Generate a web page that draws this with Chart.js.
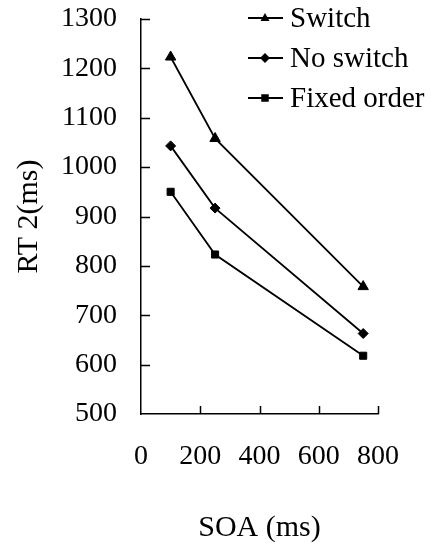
<!DOCTYPE html>
<html>
<head>
<meta charset="utf-8">
<script src="https://cdn.jsdelivr.net/npm/chart.js@4/dist/chart.umd.min.js"></script>
<style>
  html, body { margin: 0; padding: 0; background: #fff; }
  #wrap { width: 431px; height: 546px; }
</style>
</head>
<body>
<div id="wrap"><canvas id="chart" width="431" height="546"></canvas></div>
<script>
// SOA values (ms) and RT2 per condition
const soa = [100, 250, 750];
const switchRT = [1223, 1058, 758];
const noSwitchRT = [1043, 917, 663];
const fixedOrderRT = [950, 823, 618];

const seriesLabels = ['Switch', 'No switch', 'Fixed order'];
const markers = ['triangle', 'rectRot', 'rect'];

const xTicks = [0, 200, 400, 600, 800];
const yTicks = [500, 600, 700, 800, 900, 1000, 1100, 1200, 1300];

const FONT = "'Liberation Serif', 'Times New Roman', serif";

const toPoints = (vals) => vals.map((v, i) => ({ x: soa[i], y: v }));

// small tick marks pointing into the plot, like the original figure
const inwardTicks = {
  id: 'inwardTicks',
  afterDatasetsDraw(chart) {
    const { ctx, scales: { x, y } } = chart;
    ctx.save();
    ctx.strokeStyle = '#000';
    ctx.lineWidth = 1.5;
    ctx.beginPath();
    y.ticks.forEach(t => {
      if (t.value === y.min) return;
      const py = Math.round(y.getPixelForValue(t.value)) + 0.5;
      ctx.moveTo(x.left, py);
      ctx.lineTo(x.left + 9, py);
    });
    x.ticks.forEach(t => {
      if (t.value === x.min) return;
      const px = Math.round(x.getPixelForValue(t.value)) + 0.5;
      ctx.moveTo(px, y.bottom);
      ctx.lineTo(px, y.bottom - 8);
    });
    ctx.stroke();
    ctx.restore();
  }
};

function drawMarker(ctx, style, cx, cy, r) {
  ctx.beginPath();
  if (style === 'triangle') {
    ctx.moveTo(cx, cy - r);
    ctx.lineTo(cx + r * 0.9, cy + r * 0.6);
    ctx.lineTo(cx - r * 0.9, cy + r * 0.6);
  } else if (style === 'rectRot') {
    ctx.moveTo(cx, cy - r);
    ctx.lineTo(cx + r, cy);
    ctx.lineTo(cx, cy + r);
    ctx.lineTo(cx - r, cy);
  } else {
    ctx.rect(cx - r * 0.75, cy - r * 0.75, r * 1.5, r * 1.5);
  }
  ctx.closePath();
  ctx.fill();
}

// legend drawn in the upper right, line with marker in the middle
const lineLegend = {
  id: 'lineLegend',
  afterDraw(chart) {
    const ctx = chart.ctx;
    ctx.save();
    ctx.fillStyle = '#000';
    ctx.strokeStyle = '#000';
    ctx.lineWidth = 1.8;
    ctx.font = '29px ' + FONT;
    ctx.textBaseline = 'middle';
    chart.data.datasets.forEach((ds, i) => {
      const cy = 18 + i * 40;
      ctx.beginPath();
      ctx.moveTo(248, cy);
      ctx.lineTo(283, cy);
      ctx.stroke();
      drawMarker(ctx, ds.pointStyle, 265, cy, 5);
      ctx.fillText(ds.label, 290, cy + 1);
    });
    ctx.restore();
  }
};

const datasets = [switchRT, noSwitchRT, fixedOrderRT].map((vals, i) => ({
  label: seriesLabels[i],
  data: toPoints(vals),
  borderColor: '#000',
  backgroundColor: '#000',
  borderWidth: 1.8,
  pointStyle: markers[i],
  pointRadius: i === 0 ? 6 : 5,
  pointBorderWidth: 1,
  tension: 0
}));

// invisible tick marks keep the label gap without adding top padding
const hiddenTicks = (len) => ({
  display: true,
  drawOnChartArea: false,
  drawTicks: true,
  tickLength: len,
  tickColor: 'rgba(0,0,0,0)',
  color: 'rgba(0,0,0,0)'
});

new Chart(document.getElementById('chart'), {
  type: 'line',
  data: { datasets },
  options: {
    responsive: false,
    animation: false,
    layout: { padding: { top: 19, right: 53, bottom: 0, left: 0 } },
    plugins: {
      legend: { display: false },
      tooltip: { enabled: false }
    },
    scales: {
      x: {
        type: 'linear',
        min: 0,
        max: 800,
        afterBuildTicks: (s) => { s.ticks = xTicks.map(v => ({ value: v })); },
        afterFit: (s) => { s.height = 132; },
        grid: hiddenTicks(26),
        border: { display: true, color: '#000', width: 1.5 },
        ticks: {
          color: '#000', padding: 0, maxRotation: 0,
          font: { family: FONT, size: 28 },
          callback: (v) => String(v)
        },
        title: { display: true, text: 'SOA (ms)', color: '#000', font: { family: FONT, size: 30 }, padding: { bottom: 0 } }
      },
      y: {
        min: 500,
        max: 1300,
        afterBuildTicks: (s) => { s.ticks = yTicks.map(v => ({ value: v })); },
        afterFit: (s) => { s.width = 141; },
        grid: hiddenTicks(24),
        border: { display: true, color: '#000', width: 1.5 },
        ticks: {
          color: '#000', padding: 0,
          font: { family: FONT, size: 28 },
          callback: (v) => String(v)
        },
        title: { display: true, text: 'RT 2(ms)', color: '#000', font: { family: FONT, size: 30 }, padding: { top: 11 } }
      }
    }
  },
  plugins: [inwardTicks, lineLegend]
});
</script>
</body>
</html>
